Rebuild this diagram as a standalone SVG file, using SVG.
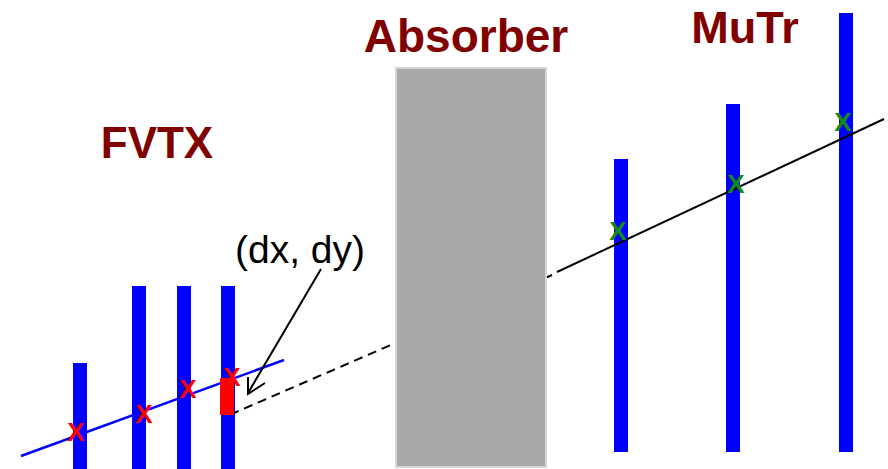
<svg xmlns="http://www.w3.org/2000/svg" width="888" height="469" viewBox="0 0 888 469">
  <style>
    .bar { fill: #0000ff; }
    .title { font-family: "Liberation Sans", Arial, sans-serif; font-weight: bold; fill: #800000; text-anchor: middle; }
    .hit { font-family: "Liberation Sans", Arial, sans-serif; font-size: 26px; font-weight: bold; text-anchor: middle; }
    .red { fill: #ff0000; }
    .green { fill: #128c12; }
    .label { font-family: "Liberation Sans", Arial, sans-serif; font-size: 39px; fill: #000000; text-anchor: middle; }
  </style>
  <rect x="0" y="0" width="888" height="469" fill="#ffffff"/>

  <g id="fvtx">
    <rect class="bar" x="73" y="363" width="14" height="106"/>
    <rect class="bar" x="132" y="286" width="14" height="183"/>
    <rect class="bar" x="177" y="286" width="14" height="183"/>
    <rect class="bar" x="221" y="286" width="14" height="183"/>
    <text class="title" x="157" y="158" font-size="44">FVTX</text>
  </g>

  <g id="mutr">
    <rect class="bar" x="614" y="159" width="14" height="293"/>
    <rect class="bar" x="726" y="104" width="14" height="348"/>
    <rect class="bar" x="839" y="13" width="14" height="439"/>
    <text class="title" x="745" y="43" font-size="45">MuTr</text>
  </g>

  <g id="connectors">
    <line x1="21" y1="456" x2="284" y2="360" stroke="#0000ff" stroke-width="2.5"/>
    <line x1="234" y1="413" x2="552" y2="275" stroke="#000000" stroke-width="2" stroke-dasharray="9,6" stroke-dashoffset="4"/>
    <line x1="557" y1="272" x2="884" y2="119" stroke="#000000" stroke-width="2"/>
    <line x1="321" y1="269" x2="248" y2="393" stroke="#000000" stroke-width="2"/>
    <polyline points="248,377 248,394 265,383" fill="none" stroke="#000000" stroke-width="2"/>
  </g>

  <g id="absorber">
    <rect x="396" y="68" width="150" height="399" fill="#a8a8a8" stroke="#d6d6d6" stroke-width="2"/>
    <text class="title" x="466" y="52" font-size="46">Absorber</text>
  </g>

  <g id="residual">
    <rect x="220" y="378" width="14" height="37" fill="#ff0000"/>
    <text class="label" x="300" y="263">(dx, dy)</text>
  </g>

  <g id="fvtx-hits">
    <text class="hit red" x="76" y="441">X</text>
    <text class="hit red" x="144" y="423">X</text>
    <text class="hit red" x="188" y="398">X</text>
    <text class="hit red" x="232" y="386">X</text>
  </g>

  <g id="mutr-hits">
    <text class="hit green" x="618" y="240">X</text>
    <text class="hit green" x="736" y="193">X</text>
    <text class="hit green" x="843" y="131">X</text>
  </g>
</svg>
